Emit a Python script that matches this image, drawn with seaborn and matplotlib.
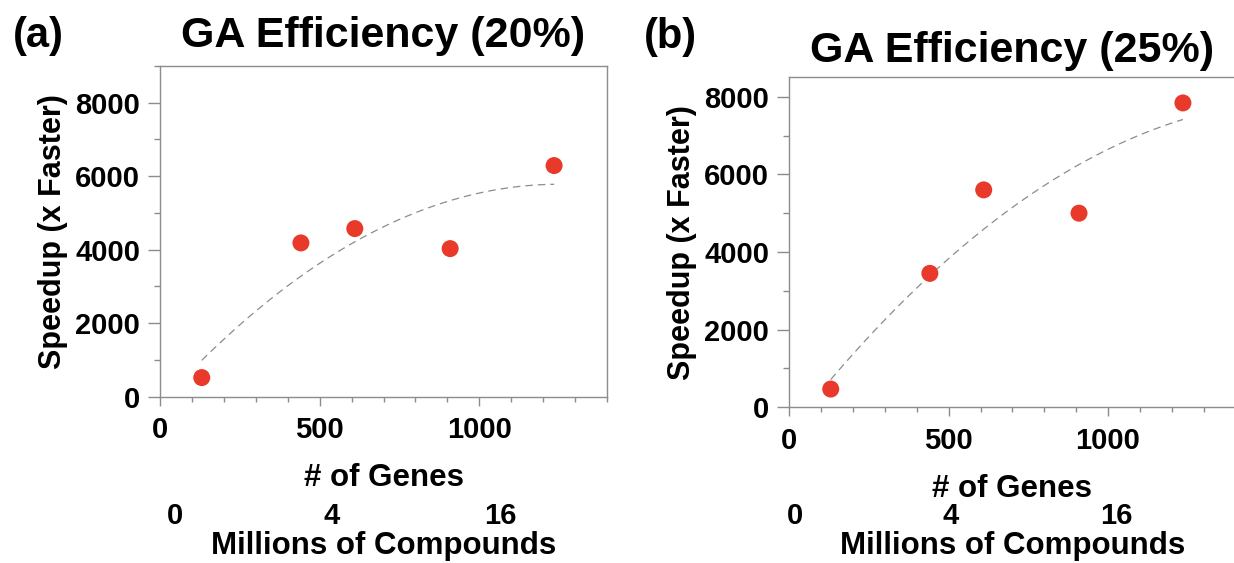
import numpy as np
import pandas as pd
import matplotlib
matplotlib.use("Agg")
import matplotlib.pyplot as plt
from matplotlib.ticker import MultipleLocator, FixedLocator, FixedFormatter
import seaborn as sns

# ---------------- data ----------------
genes = [130, 441, 610, 909, 1235]
speedup_20 = [520, 4185, 4575, 4030, 6290]
speedup_25 = [470, 3450, 5600, 5000, 7840]

panel_tags = ["(a)", "(b)"]
titles = ["GA Efficiency (20%)", "GA Efficiency (25%)"]
gene_ticks = [0, 500, 1000]
speed_ticks = [0, 2000, 4000, 6000, 8000]
compound_labels = ["0", "4", "16"]
compound_pos_a = [46, 538, 1066]
compound_pos_b = [18, 506, 1027]

# ---------------- style ----------------
sns.set_style("ticks")
plt.rcParams["font.family"] = ["Liberation Sans", "DejaVu Sans"]
plt.rcParams["font.weight"] = "bold"
plt.rcParams["text.color"] = "black"
plt.rcParams["axes.labelcolor"] = "black"
plt.rcParams["axes.titlecolor"] = "black"
plt.rcParams["xtick.labelcolor"] = "black"
plt.rcParams["ytick.labelcolor"] = "black"

RED = "#E8392A"
GRAY = "#8c8c8c"
W, H = 1234, 563

fig = plt.figure(figsize=(W / 100, H / 100), dpi=100)

def px_axes(left, right, top, bottom):
    return [left / W, 1 - bottom / H, (right - left) / W, (bottom - top) / H]

ax_a = fig.add_axes(px_axes(160.3, 606.7, 66.0, 396.7))
ax_b = fig.add_axes(px_axes(789.3, 1235.5, 77.3, 407.3))

specs = [
    (ax_a, speedup_20, 9000, compound_pos_a, 396.7, 330.7, 13.5),
    (ax_b, speedup_25, 8500, compound_pos_b, 407.3, 330.0, 11.2),
]

for i, (ax, ys, ytop, cpos, ybottom_px, h_px, tpad) in enumerate(specs):
    df = pd.DataFrame({"genes": genes, "speedup": ys})
    sns.regplot(data=df, x="genes", y="speedup", order=2, ci=None, scatter=False,
                truncate=True, ax=ax,
                line_kws=dict(color=GRAY, lw=0.9, ls=(0, (6, 4))))
    sns.scatterplot(data=df, x="genes", y="speedup", ax=ax, s=150, color=RED,
                    edgecolor="none", zorder=5)

    ax.set_xlim(0, 1400)
    ax.set_ylim(0, ytop)
    ax.xaxis.set_major_locator(FixedLocator(gene_ticks))
    ax.xaxis.set_minor_locator(MultipleLocator(100))
    ax.yaxis.set_major_locator(FixedLocator(speed_ticks))
    ax.yaxis.set_minor_locator(MultipleLocator(1000))

    for sp in ax.spines.values():
        sp.set_color(GRAY)
        sp.set_linewidth(1.0)
        sp.set_visible(True)

    ax.tick_params(axis="x", which="major", direction="out", length=6.7, width=1,
                   color=GRAY, pad=7.5, labelsize=21, labelcolor="black")
    ax.tick_params(axis="x", which="minor", direction="out", length=3.6, width=1,
                   color=GRAY)
    ax.tick_params(axis="y", which="major", direction="out", length=8.6, width=1,
                   color=GRAY, pad=6, labelsize=21, labelcolor="black")
    ax.tick_params(axis="y", which="minor", direction="out", length=4.3, width=1,
                   color=GRAY)
    for lab in ax.get_xticklabels() + ax.get_yticklabels():
        lab.set_fontweight("bold")

    ax.set_xlabel("# of Genes", fontsize=22.5, fontweight="bold", labelpad=13.5,
                  color="black")
    ax.set_ylabel("Speedup (x Faster)", fontsize=22, fontweight="bold", labelpad=5,
                  color="black")
    ax.set_title(titles[i], fontsize=31, fontweight="bold", pad=tpad, color="black")

    # secondary axis: millions of compounds
    spine_px = 502.0
    loc = -(spine_px - ybottom_px) / h_px
    sec = ax.secondary_xaxis(loc)
    sec.xaxis.set_major_locator(FixedLocator(cpos))
    sec.xaxis.set_major_formatter(FixedFormatter(compound_labels))
    sec.xaxis.set_minor_locator(FixedLocator([]))
    sec.tick_params(axis="x", length=0, pad=0, labelsize=21, labelcolor="black")
    for lab in sec.get_xticklabels():
        lab.set_fontweight("bold")
    sec.spines["bottom"].set_visible(False)
    sec.set_xlabel("Millions of Compounds", fontsize=22.5, fontweight="bold",
                   labelpad=1.0, color="black")

fig.text(38.5 / W, 1 - 36 / H, panel_tags[0], fontsize=30, fontweight="bold",
         ha="center", va="center", color="black")
fig.text(670 / W, 1 - 36.6 / H, panel_tags[1], fontsize=30, fontweight="bold",
         ha="center", va="center", color="black")

fig.savefig("out.png", dpi=100)
